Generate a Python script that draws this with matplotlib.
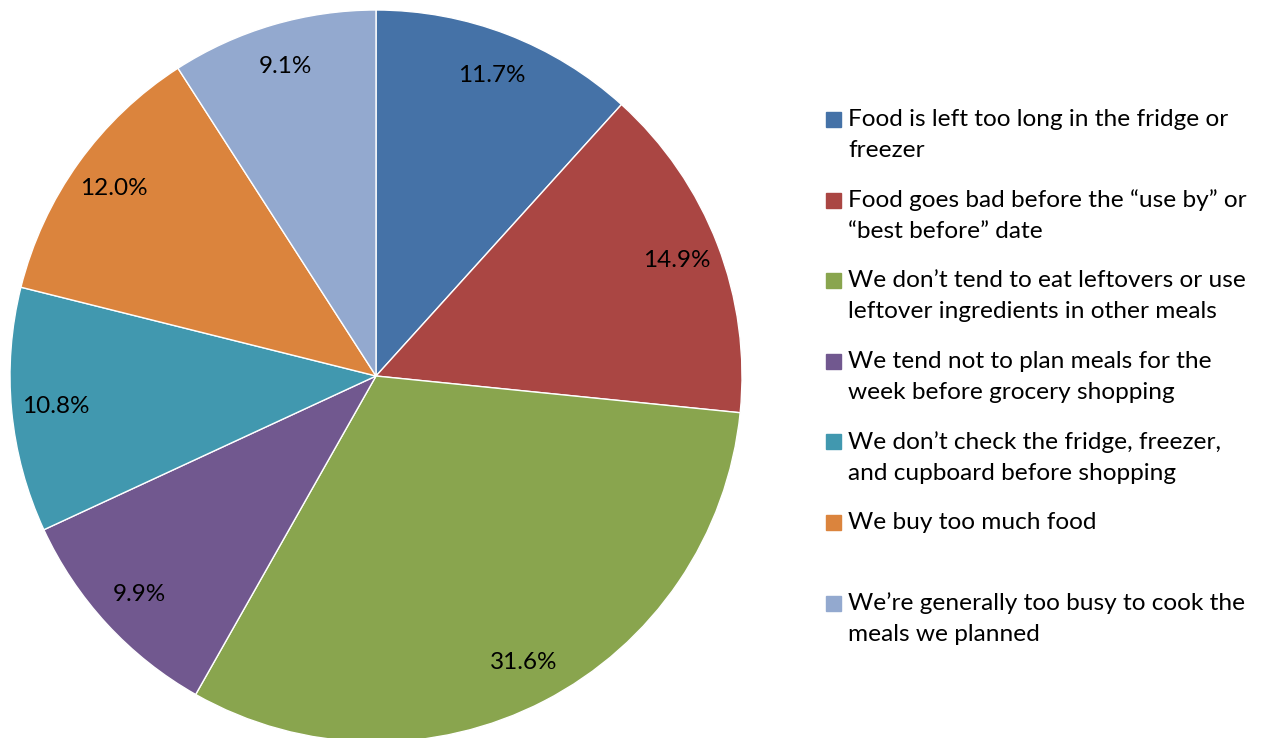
import matplotlib
matplotlib.use("Agg")
import matplotlib.pyplot as plt
from matplotlib.patches import Rectangle

plt.rcParams['font.family'] = ['Lato', 'DejaVu Sans']

labels = [
    "Food is left too long in the fridge or\nfreezer",
    "Food goes bad before the \u201cuse by\u201d or\n\u201cbest before\u201d date",
    "We don\u2019t tend to eat leftovers or use\nleftover ingredients in other meals",
    "We tend not to plan meals for the\nweek before grocery shopping",
    "We don\u2019t check the fridge, freezer,\nand cupboard before shopping",
    "We buy too much food",
    "We\u2019re generally too busy to cook the\nmeals we planned",
]
shares = [11.7, 14.9, 31.6, 9.9, 10.8, 12.0, 9.1]
colors = ["#4572A7", "#AA4643", "#89A54E", "#71588F", "#4198AF", "#DB843D", "#93A9CF"]

W, H = 1269, 738
fig = plt.figure(figsize=(W / 100, H / 100), dpi=100)

# pie centred at (376, 376) px with a 366 px radius
cx, cy, r = 376, 376, 366
ax = fig.add_axes([(cx - r) / W, (H - cy - r) / H, 2 * r / W, 2 * r / H])
ax.pie(shares, colors=colors, startangle=90, counterclock=False,
       autopct="%.1f%%", pctdistance=0.88,
       wedgeprops=dict(edgecolor="white", linewidth=1),
       textprops=dict(fontsize=17.5, color="black"))
ax.set_xlim(-1, 1)
ax.set_ylim(-1, 1)
ax.axis("off")

# legend drawn by hand so each marker sits on the first text line
x_box, x_text = 826, 848
base0, step = 126, 80.6
for i, (lab, col) in enumerate(zip(labels, colors)):
    yb = base0 + i * step
    fig.patches.append(Rectangle((x_box / W, 1 - (yb + 1) / H), 15 / W, 15 / H,
                                 transform=fig.transFigure, color=col))
    fig.text(x_text / W, 1 - (yb - 17) / H, lab, fontsize=17.6, va="top", ha="left",
             linespacing=1.58)

fig.savefig("out.png", dpi=100)
